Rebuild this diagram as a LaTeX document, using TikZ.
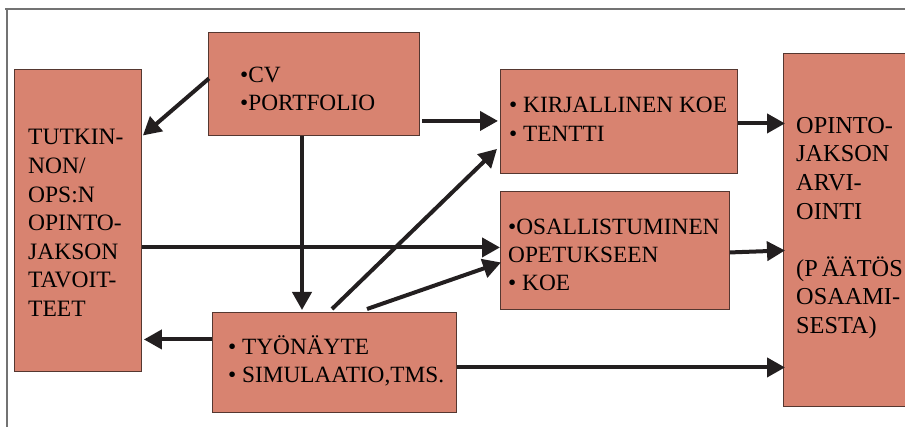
\documentclass[tikz,border=0pt]{standalone}
\usepackage{fontspec}
\setmainfont{Liberation Serif}
\usetikzlibrary{arrows.meta,calc}
\definecolor{boxfill}{RGB}{216,131,112}
\definecolor{boxline}{RGB}{85,55,48}
\definecolor{arrcol}{RGB}{35,31,32}
\definecolor{framecol}{RGB}{115,115,115}
\begin{document}
\begin{tikzpicture}[x=1pt,y=-1pt,
  box/.style={draw=boxline, line width=0.9pt, fill=boxfill, anchor=north west, inner sep=0pt},
  txt/.style={anchor=west, align=left, inner sep=0pt, font=\fontsize{23.3}{28}\selectfont},
  bigtxt/.style={anchor=west, align=left, inner sep=0pt, font=\fontsize{23.5}{28.6}\selectfont},
  arrow/.style={draw=arrcol, line width=4pt, -{Triangle[length=18pt,width=19pt]}}]
\useasboundingbox (0,0) rectangle (905,427);
\begin{scope}
\clip (0,0) rectangle (905,427);
% frame
\draw[framecol, line width=2pt] (5,9) -- (910,9);
\draw[framecol, line width=1.5pt] (7,9) -- (7,430);
% boxes
\node[box, minimum width=127pt, minimum height=302pt] (goal) at (14,69) {};
\node[box, minimum width=211pt, minimum height=103pt] (cv) at (208,32) {};
\node[box, minimum width=237pt, minimum height=104pt] (kirj) at (500,69) {};
\node[box, minimum width=229pt, minimum height=118pt] (osall) at (500,191) {};
\node[box, minimum width=244pt, minimum height=100pt] (tyo) at (212,312) {};
\node[box, minimum width=135pt, minimum height=353pt] (arvi) at (783,53) {};
% texts
\node[bigtxt] (goaltext) at (28,223) {TUTKIN-\\NON/\\OPS:N\\OPINTO-\\JAKSON\\TAVOIT-\\TEET};
\node[txt] (cvtext) at (240,88.5) {•CV\\•PORTFOLIO};
\node[txt, font=\fontsize{23.3}{29}\selectfont] (kirjtext) at (509,119) {• KIRJALLINEN KOE\\• TENTTI};
\node[txt] (osalltext) at (508,254.5) {•OSALLISTUMINEN\\OPETUKSEEN\\• KOE};
\node[txt] (tyotext) at (228,361) {• TYÖNÄYTE\\• SIMULAATIO,TMS.};
\node[bigtxt, font=\fontsize{24.3}{28.6}\selectfont] (arvitext) at (796,228) {OPINTO-\\JAKSON\\ARVI-\\OINTI\\[28.6pt](P\hspace{4pt}ÄÄTÖS\\OSAAMI-\\SESTA)};
% connectors
\draw[arrow] ($(cv.west)+(1,-5.5)$) -- ($(goal.east)+(1,-85)$);
\draw[arrow] ($(cv.east)+(2,37)$) -- ($(kirj.west)+(-2,-0.5)$);
\draw[arrow] ($(cv.south west)+(94,0)$) -- ($(tyo.north west)+(90,-2)$);
\draw[arrow] ($(goal.east)+(0,27)$) -- ($(osall.west)+(0,-3)$);
\draw[arrow] ($(tyo.north west)+(120,-3)$) -- ($(kirj.south west)+(-3,-25)$);
\draw[arrow] ($(tyo.north west)+(155,-3)$) -- ($(osall.west)+(1,12)$);
\draw[arrow] ($(tyo.west)+(0,-23)$) -- ($(goal.east)+(2,119)$);
\draw[arrow] ($(tyo.east)+(0,5)$) -- ($(arvi.west)+(2,137.5)$);
\draw[arrow] ($(kirj.east)+(0,2)$) -- ($(arvi.west)+(2,-106.5)$);
\draw[arrow] ($(osall.east)+(0,2)$) -- ($(arvi.west)+(2,20.5)$);
\end{scope}
\end{tikzpicture}
\end{document}
